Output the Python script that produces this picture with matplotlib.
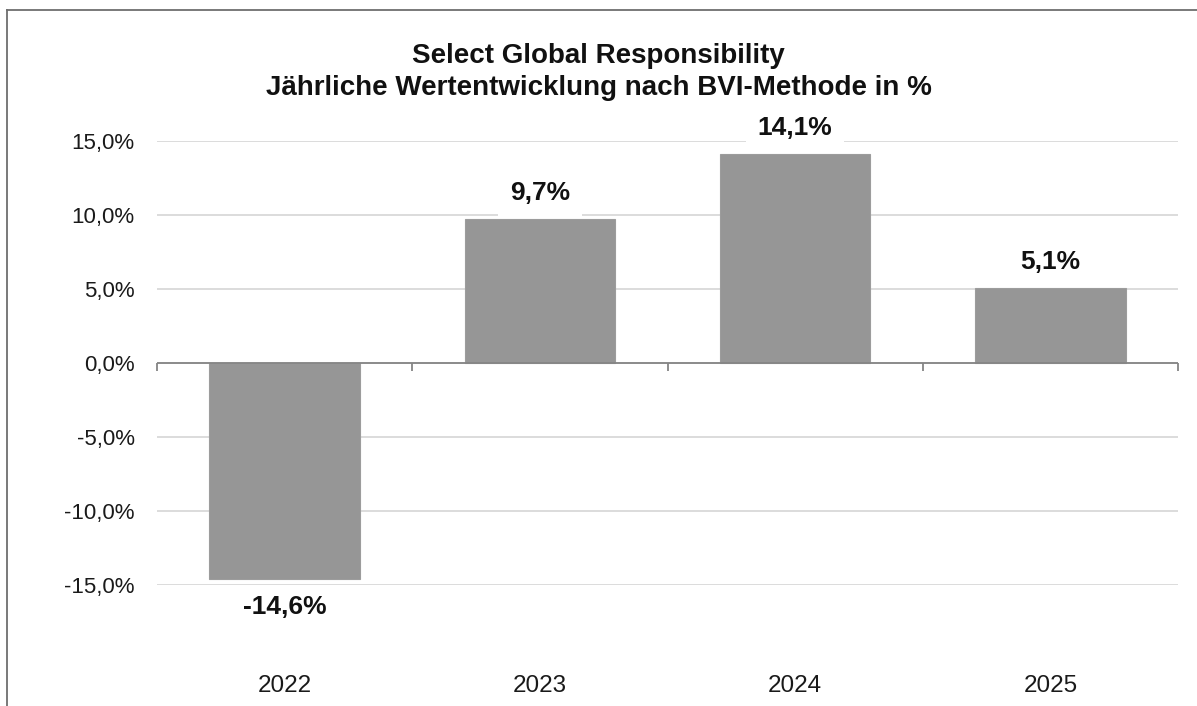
import matplotlib
matplotlib.use("Agg")
import matplotlib.pyplot as plt
from matplotlib.lines import Line2D
import numpy as np

plt.rcParams['font.family'] = ['Liberation Sans', 'DejaVu Sans']

years = ["2022", "2023", "2024", "2025"]
returns = [-14.6, 9.7, 14.1, 5.1]
y_ticks = [-15, -10, -5, 0, 5, 10, 15]
title_1 = "Select Global Responsibility"
title_2 = "Jährliche Wertentwicklung nach BVI-Methode in %"

W, H = 1197, 706
fig = plt.figure(figsize=(W / 100, H / 100), dpi=100)

# outer frame (only top and left edges visible in the crop)
fig.add_artist(Line2D([7 / W, 7 / W], [0, 1 - 10 / H], transform=fig.transFigure,
                      color="#6e6e6e", lw=1.3))
fig.add_artist(Line2D([7 / W, 1], [1 - 10 / H, 1 - 10 / H], transform=fig.transFigure,
                      color="#6e6e6e", lw=1.3))

left, right = 157 / W, 1178 / W
top, bottom = 1 - 141 / H, 1 - 585 / H
ax = fig.add_axes([left, bottom, right - left, top - bottom])

x = np.arange(len(years))
ax.bar(x, returns, width=0.59, color="#969696", edgecolor="#9c9c9c", lw=0.8, zorder=2)
ax.set_xlim(-0.5, len(years) - 0.5)
ax.set_ylim(-15, 15)

ax.set_yticks(y_ticks)
ax.set_yticklabels([f"{v:.1f}%".replace(".", ",") for v in y_ticks])
ax.tick_params(axis="y", length=0, pad=16, labelsize=16, labelcolor="#1a1a1a")
ax.grid(axis="y", color="#d9d9d9", lw=1.3, zorder=0)
for s in ax.spines.values():
    s.set_visible(False)

# zero line with category separator ticks
ax.axhline(0, color="#858585", lw=1.3, zorder=3)
ax.set_xticks([])
sep = np.arange(len(years) + 1) - 0.5
ax.plot(sep, [0] * len(sep), ls="none", marker=3, markersize=6,
        color="#858585", markeredgewidth=1.3, clip_on=False, zorder=3)

# year labels at the bottom
sec = ax.secondary_xaxis((585 - 686) / (585 - 141))
sec.set_xticks(x)
sec.set_xticklabels(years)
sec.tick_params(length=0, pad=0, labelsize=17.5, labelcolor="#1a1a1a")
sec.spines["bottom"].set_visible(False)
for lab in sec.get_xticklabels():
    lab.set_va("center")

for xi, v in zip(x, returns):
    off = 26 if v >= 0 else -28
    box = dict(fc="white", ec="none", boxstyle="square,pad=0.45") if v >= 0 else None
    ax.annotate(f"{v:.1f}%".replace(".", ","), (xi, v), xytext=(0, off * 0.72),
                textcoords="offset points", ha="center", va="center",
                fontsize=19, fontweight="bold", color="#111111", zorder=4,
                bbox=box)

fig.text(0.5, 1 - 56 / H, title_1, ha="center", va="center", fontsize=20,
         fontweight="bold", color="#111111")
fig.text(0.5, 1 - 88 / H, title_2, ha="center", va="center", fontsize=20,
         fontweight="bold", color="#111111")

fig.savefig("out.png", dpi=100)
